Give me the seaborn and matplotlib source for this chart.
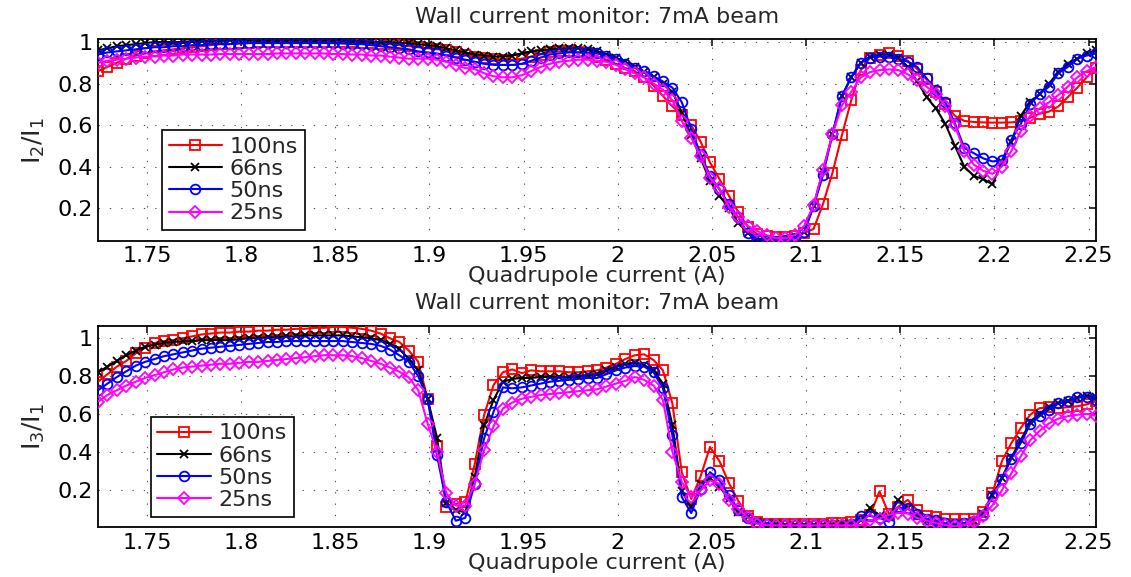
import numpy as np
import pandas as pd
import matplotlib
matplotlib.use("Agg")
import matplotlib.pyplot as plt
import seaborn as sns

# ---------------- data ----------------
x_start, x_step, n_pts = 1.724, 0.005, 107
current = np.round(x_start + x_step * np.arange(n_pts), 4)

series_labels = ["100ns", "66ns", "50ns", "25ns"]

# I2/I1 (top panel)
i2_100 = [0.86, 0.88, 0.90, 0.92, 0.935, 0.945, 0.955, 0.96, 0.965, 0.97,
          0.975, 0.98, 0.985, 0.99, 0.99, 0.995, 0.995, 1.0, 1.0, 1.0,
          1.0, 1.0, 1.0, 1.0, 1.0, 1.0, 1.0, 1.0, 0.995, 0.995,
          0.99, 0.99, 0.985, 0.98, 0.975, 0.97, 0.965, 0.96, 0.95, 0.94,
          0.93, 0.925, 0.92, 0.915, 0.915, 0.92, 0.93, 0.94, 0.95, 0.955,
          0.955, 0.95, 0.945, 0.93, 0.915, 0.895, 0.875, 0.86, 0.83, 0.79,
          0.74, 0.69, 0.65, 0.60, 0.52, 0.42, 0.34, 0.26, 0.18, 0.11,
          0.075, 0.065, 0.06, 0.06, 0.065, 0.08, 0.10, 0.22, 0.37, 0.55,
          0.72, 0.865, 0.925, 0.94, 0.945, 0.935, 0.91, 0.87, 0.82, 0.76,
          0.70, 0.645, 0.62, 0.615, 0.613, 0.612, 0.612, 0.613, 0.618, 0.635,
          0.655, 0.665, 0.69, 0.735, 0.78, 0.83, 0.875]
i2_66 = [0.96, 0.97, 0.98, 0.985, 0.99, 0.995, 1.0, 1.0, 1.0, 1.0,
         1.005, 1.005, 1.005, 1.005, 1.01, 1.01, 1.01, 1.01, 1.01, 1.01,
         1.01, 1.01, 1.01, 1.01, 1.01, 1.01, 1.01, 1.005, 1.005, 1.0,
         1.0, 1.0, 0.995, 0.995, 0.99, 0.985, 0.98, 0.97, 0.96, 0.95,
         0.94, 0.935, 0.93, 0.93, 0.935, 0.945, 0.955, 0.96, 0.965, 0.97,
         0.97, 0.97, 0.965, 0.955, 0.94, 0.925, 0.905, 0.88, 0.855, 0.83,
         0.80, 0.76, 0.66, 0.55, 0.44, 0.33, 0.26, 0.20, 0.13, 0.08,
         0.055, 0.045, 0.045, 0.05, 0.06, 0.085, 0.21, 0.38, 0.555, 0.74,
         0.83, 0.90, 0.93, 0.94, 0.94, 0.925, 0.88, 0.81, 0.735, 0.68,
         0.605, 0.50, 0.40, 0.355, 0.34, 0.315, 0.42, 0.52, 0.645, 0.71,
         0.75, 0.80, 0.855, 0.895, 0.92, 0.945, 0.96]
i2_50 = [0.94, 0.95, 0.955, 0.96, 0.965, 0.97, 0.975, 0.975, 0.98, 0.98,
         0.985, 0.985, 0.99, 0.99, 0.99, 0.993, 0.995, 0.995, 0.995, 0.995,
         0.995, 0.995, 0.995, 0.995, 0.995, 0.995, 0.993, 0.99, 0.99, 0.985,
         0.98, 0.975, 0.97, 0.965, 0.955, 0.95, 0.945, 0.935, 0.925, 0.915,
         0.905, 0.895, 0.89, 0.89, 0.89, 0.895, 0.91, 0.925, 0.94, 0.945,
         0.95, 0.95, 0.95, 0.945, 0.935, 0.92, 0.895, 0.875, 0.86, 0.835,
         0.81, 0.78, 0.71, 0.58, 0.46, 0.355, 0.29, 0.22, 0.155, 0.08,
         0.05, 0.04, 0.04, 0.045, 0.055, 0.085, 0.21, 0.36, 0.555, 0.74,
         0.83, 0.90, 0.925, 0.93, 0.93, 0.92, 0.905, 0.88, 0.825, 0.77,
         0.71, 0.61, 0.49, 0.465, 0.44, 0.425, 0.43, 0.53, 0.605, 0.70,
         0.75, 0.785, 0.85, 0.88, 0.92, 0.935, 0.945]
i2_25 = [0.90, 0.91, 0.915, 0.92, 0.925, 0.93, 0.93, 0.935, 0.935, 0.94,
         0.94, 0.94, 0.94, 0.942, 0.942, 0.942, 0.942, 0.942, 0.942, 0.945,
         0.945, 0.945, 0.945, 0.945, 0.945, 0.942, 0.942, 0.94, 0.94, 0.935,
         0.935, 0.93, 0.925, 0.92, 0.92, 0.92, 0.915, 0.905, 0.89, 0.875,
         0.87, 0.85, 0.835, 0.83, 0.83, 0.84, 0.86, 0.88, 0.895, 0.905,
         0.91, 0.915, 0.915, 0.91, 0.905, 0.89, 0.87, 0.85, 0.83, 0.80,
         0.77, 0.72, 0.62, 0.54, 0.45, 0.345, 0.295, 0.205, 0.155, 0.115,
         0.09, 0.07, 0.055, 0.055, 0.07, 0.115, 0.215, 0.385, 0.555, 0.695,
         0.76, 0.83, 0.855, 0.865, 0.868, 0.865, 0.845, 0.815, 0.785, 0.75,
         0.69, 0.60, 0.475, 0.41, 0.38, 0.365, 0.40, 0.475, 0.57, 0.645,
         0.68, 0.71, 0.745, 0.785, 0.83, 0.86, 0.88]

# I3/I1 (bottom panel)
i3_100 = [0.77, 0.81, 0.85, 0.88, 0.92, 0.95, 0.975, 0.985, 0.99, 1.0,
          1.01, 1.02, 1.025, 1.03, 1.03, 1.035, 1.035, 1.04, 1.04, 1.045,
          1.045, 1.05, 1.05, 1.055, 1.055, 1.06, 1.06, 1.055, 1.05, 1.04,
          1.025, 1.0, 0.98, 0.935, 0.876, 0.68, 0.43, 0.106, 0.124, 0.133,
          0.333, 0.593, 0.752, 0.82, 0.835, 0.815, 0.83, 0.825, 0.825, 0.825,
          0.82, 0.82, 0.825, 0.83, 0.845, 0.865, 0.89, 0.91, 0.915, 0.885,
          0.83, 0.655, 0.29, 0.15, 0.27, 0.425, 0.35, 0.235, 0.14, 0.06,
          0.027, 0.02, 0.018, 0.018, 0.018, 0.018, 0.018, 0.02, 0.022, 0.025,
          0.03, 0.04, 0.065, 0.19, 0.07, 0.11, 0.145, 0.09, 0.06, 0.055,
          0.045, 0.042, 0.042, 0.045, 0.08, 0.18, 0.35, 0.445, 0.525, 0.595,
          0.63, 0.635, 0.632, 0.635, 0.64, 0.65, 0.667]
i3_66 = [0.82, 0.85, 0.88, 0.91, 0.935, 0.955, 0.965, 0.975, 0.98, 0.985,
         0.985, 0.99, 0.99, 0.99, 0.99, 0.995, 1.0, 1.0, 1.005, 1.005,
         1.01, 1.01, 1.015, 1.015, 1.015, 1.015, 1.015, 1.01, 1.005, 1.0,
         0.99, 0.97, 0.945, 0.89, 0.83, 0.68, 0.475, 0.13, 0.09, 0.08,
         0.265, 0.54, 0.673, 0.77, 0.785, 0.79, 0.79, 0.795, 0.795, 0.795,
         0.795, 0.80, 0.805, 0.81, 0.83, 0.85, 0.865, 0.87, 0.858, 0.83,
         0.76, 0.54, 0.19, 0.105, 0.228, 0.26, 0.215, 0.15, 0.08, 0.053,
         0.03, 0.02, 0.015, 0.012, 0.012, 0.012, 0.012, 0.012, 0.012, 0.015,
         0.02, 0.04, 0.10, 0.06, 0.055, 0.147, 0.10, 0.06, 0.035, 0.02,
         0.012, 0.01, 0.015, 0.035, 0.07, 0.17, 0.26, 0.37, 0.46, 0.555,
         0.60, 0.635, 0.655, 0.67, 0.685, 0.695, 0.69]
i3_50 = [0.725, 0.76, 0.795, 0.825, 0.855, 0.875, 0.89, 0.905, 0.915, 0.925,
         0.935, 0.945, 0.95, 0.955, 0.96, 0.965, 0.97, 0.975, 0.98, 0.98,
         0.985, 0.985, 0.985, 0.985, 0.985, 0.985, 0.985, 0.98, 0.975, 0.97,
         0.96, 0.94, 0.91, 0.876, 0.80, 0.68, 0.38, 0.133, 0.035, 0.05,
         0.23, 0.47, 0.61, 0.74, 0.735, 0.74, 0.75, 0.76, 0.77, 0.775,
         0.78, 0.785, 0.79, 0.79, 0.81, 0.83, 0.845, 0.853, 0.85, 0.82,
         0.735, 0.487, 0.16, 0.075, 0.204, 0.292, 0.248, 0.17, 0.094, 0.05,
         0.025, 0.02, 0.012, 0.012, 0.012, 0.012, 0.012, 0.012, 0.012, 0.012,
         0.015, 0.06, 0.06, 0.05, 0.03, 0.105, 0.10, 0.07, 0.046, 0.037,
         0.022, 0.02, 0.022, 0.035, 0.066, 0.165, 0.257, 0.363, 0.446, 0.545,
         0.588, 0.623, 0.655, 0.67, 0.687, 0.69, 0.673]
i3_25 = [0.665, 0.70, 0.725, 0.75, 0.77, 0.79, 0.805, 0.82, 0.835, 0.845,
         0.85, 0.855, 0.86, 0.865, 0.865, 0.87, 0.875, 0.875, 0.88, 0.885,
         0.89, 0.895, 0.90, 0.905, 0.91, 0.91, 0.91, 0.905, 0.895, 0.88,
         0.865, 0.845, 0.823, 0.793, 0.726, 0.549, 0.398, 0.18, 0.115, 0.115,
         0.23, 0.407, 0.535, 0.628, 0.66, 0.68, 0.69, 0.70, 0.705, 0.71,
         0.715, 0.72, 0.725, 0.73, 0.745, 0.76, 0.775, 0.795, 0.78, 0.75,
         0.673, 0.40, 0.24, 0.16, 0.195, 0.248, 0.23, 0.142, 0.097, 0.053,
         0.018, 0.012, 0.01, 0.01, 0.01, 0.01, 0.01, 0.01, 0.01, 0.01,
         0.01, 0.012, 0.037, 0.046, 0.066, 0.076, 0.073, 0.05, 0.035, 0.022,
         0.012, 0.005, 0.012, 0.03, 0.058, 0.117, 0.196, 0.285, 0.375, 0.46,
         0.51, 0.55, 0.575, 0.588, 0.595, 0.60, 0.59]

x_ticks = [1.75, 1.8, 1.85, 1.9, 1.95, 2.0, 2.05, 2.1, 2.15, 2.2, 2.25]
x_tick_labels = ["1.75", "1.8", "1.85", "1.9", "1.95", "2", "2.05", "2.1", "2.15", "2.2", "2.25"]
y_ticks = [0.2, 0.4, 0.6, 0.8, 1.0]
y_tick_labels = ["0.2", "0.4", "0.6", "0.8", "1"]

title_text = "Wall current monitor: 7mA beam"
x_label = "Quadrupole current (A)"
y_labels = [r"$\mathregular{I_2/I_1}$", r"$\mathregular{I_3/I_1}$"]

# ---------------- style ----------------
sns.set_style("white")
plt.rcParams["font.family"] = ["DejaVu Sans"]
plt.rcParams["mathtext.default"] = "regular"

colors = ["#ff0000", "#000000", "#0000ff", "#ff00ff"]
markers = ["s", "x", "o", "D"]
msizes = [6.5, 5.5, 7.0, 6.0]
fs = 16

fig = plt.figure(figsize=(11.31, 5.77), dpi=100)
ax_top = fig.add_axes([0.0867, 0.5828, 0.8824, 0.3490])
ax_bot = fig.add_axes([0.0867, 0.0861, 0.8824, 0.3490])

panels = [
    (ax_top, [i2_100, i2_66, i2_50, i2_25], (0.043, 1.013), y_labels[0], (0.0641, 0.5497)),
    (ax_bot, [i3_100, i3_66, i3_50, i3_25], (0.0, 1.065), y_labels[1], (0.0528, 0.549)),
]

for ax, data, ylim, ylab, leg_anchor in panels:
    for k, (vals, lab) in enumerate(zip(data, series_labels)):
        df = pd.DataFrame({"current": current, "ratio": vals})
        sns.lineplot(data=df, x="current", y="ratio", ax=ax, color=colors[k],
                     marker=markers[k], markersize=msizes[k],
                     markerfacecolor="none", markeredgecolor=colors[k],
                     markeredgewidth=1.3, linewidth=1.5, label=lab,
                     zorder=3 + k, sort=False, estimator=None)
    ax.set_xlim(current[0], current[-1])
    ax.set_ylim(*ylim)
    ax.set_xticks(x_ticks)
    ax.set_xticklabels(x_tick_labels)
    ax.set_yticks(y_ticks)
    ax.set_yticklabels(y_tick_labels)
    ax.grid(True, color="#555555", linestyle=(0, (1.2, 9)), linewidth=0.8)
    ax.set_axisbelow(True)
    ax.tick_params(direction="in", top=True, right=True, length=5, width=1.1,
                   labelsize=fs, pad=4, colors="black")
    for sp in ax.spines.values():
        sp.set_color("black")
        sp.set_linewidth(1.3)
    ax.set_title(title_text, fontsize=fs, pad=12)
    ax.set_xlabel(x_label, fontsize=fs, labelpad=0)
    ax.set_ylabel(ylab, fontsize=18, labelpad=7)
    handles, labels = ax.get_legend_handles_labels()
    leg = ax.legend(handles, labels, loc="upper left", bbox_to_anchor=leg_anchor,
                    fontsize=fs, frameon=True, fancybox=False, edgecolor="black",
                    framealpha=1, handlelength=2.4, handletextpad=0.35,
                    labelspacing=0.1, borderpad=0.3, borderaxespad=0, numpoints=1)
    leg.get_frame().set_linewidth(1.2)
    leg.set_zorder(20)

fig.savefig("out.png", dpi=100, facecolor="white")
